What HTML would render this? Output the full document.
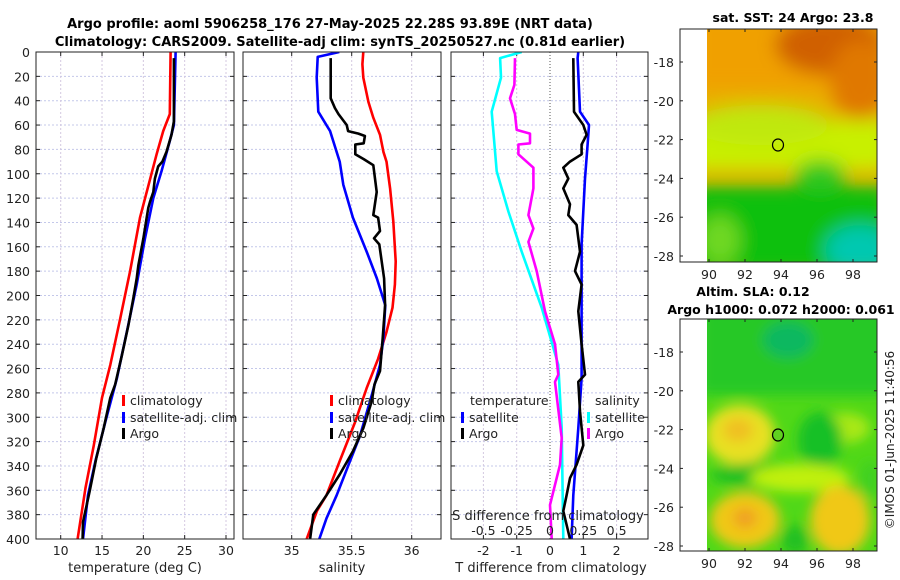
<!DOCTYPE html>
<html><head><meta charset="utf-8"><style>
html,body{margin:0;padding:0;background:#fff;}
svg{display:block;font-family:"DejaVu Sans","Liberation Sans",sans-serif;}
</style></head><body>
<svg id="fig" width="900" height="580" viewBox="0 0 900 580">
<defs>
<filter id="b1" x="-50%" y="-50%" width="200%" height="200%"><feGaussianBlur stdDeviation="9"/></filter>
<filter id="b2" x="-50%" y="-50%" width="200%" height="200%"><feGaussianBlur stdDeviation="6"/></filter>
<clipPath id="c1"><rect x="707" y="29" width="170" height="233"/></clipPath>
<clipPath id="c2"><rect x="707" y="319" width="170" height="232"/></clipPath>
<clipPath id="cp1"><rect x="36" y="52" width="198" height="487"/></clipPath>
<clipPath id="cp2"><rect x="243" y="52" width="198" height="487"/></clipPath>
<clipPath id="cp3"><rect x="451" y="52" width="197" height="487"/></clipPath>
</defs>
<text x="330" y="28" text-anchor="middle" font-size="13" font-weight="bold">Argo profile: aoml 5906258_176 27-May-2025 22.28S 93.89E (NRT data)</text>
<text x="340" y="46" text-anchor="middle" font-size="13" font-weight="bold">Climatology: CARS2009. Satellite-adj clim: synTS_20250527.nc (0.81d earlier)</text>

<g id="maps">
<g>
<rect x="680" y="29" width="197" height="233" fill="#fff"/>
<g clip-path="url(#c1)">
<rect x="707" y="29" width="170" height="233" fill="#e8b000"/>
<g filter="url(#b1)">
<rect x="690" y="10" width="200" height="80" fill="#f0a000"/>
<ellipse cx="830" cy="45" rx="55" ry="30" fill="#d06000"/>
<ellipse cx="860" cy="80" rx="30" ry="40" fill="#e07800"/>
<rect x="690" y="120" width="200" height="50" fill="#c8f000"/>
<ellipse cx="760" cy="125" rx="70" ry="20" fill="#c0e810"/>
<rect x="690" y="185" width="200" height="90" fill="#10c010"/>
<ellipse cx="820" cy="175" rx="25" ry="15" fill="#30c820"/>
<ellipse cx="860" cy="250" rx="35" ry="25" fill="#00c8b0"/>
<ellipse cx="720" cy="240" rx="20" ry="25" fill="#70d820"/>
</g>
</g>
<rect x="680" y="29" width="197" height="233" fill="none" stroke="#222" stroke-width="1"/>
<ellipse cx="778" cy="145" rx="5.5" ry="6" fill="none" stroke="#000" stroke-width="1.2"/>
<text x="793" y="22" text-anchor="middle" font-size="12.5" font-weight="bold">sat. SST: 24 Argo: 23.8</text>
</g>
<g>
<rect x="680" y="319" width="197" height="232" fill="#fff"/>
<g clip-path="url(#c2)">
<rect x="707" y="319" width="170" height="232" fill="#50d818"/>
<g filter="url(#b2)">
<rect x="700" y="300" width="190" height="95" fill="#28c828"/>
<ellipse cx="788" cy="340" rx="25" ry="18" fill="#10b860"/>
<ellipse cx="740" cy="435" rx="35" ry="30" fill="#e8e020"/>
<ellipse cx="738" cy="430" rx="15" ry="12" fill="#f0c020"/>
<ellipse cx="845" cy="428" rx="25" ry="15" fill="#a8e818"/>
<ellipse cx="820" cy="440" rx="22" ry="28" fill="#18c028"/>
<ellipse cx="760" cy="475" rx="50" ry="12" fill="#20c020"/>
<ellipse cx="800" cy="478" rx="50" ry="14" fill="#c0f010"/>
<ellipse cx="745" cy="520" rx="35" ry="28" fill="#f0c818"/>
<ellipse cx="745" cy="518" rx="12" ry="10" fill="#f0a020"/>
<ellipse cx="840" cy="520" rx="30" ry="35" fill="#f0c818"/>
<ellipse cx="795" cy="540" rx="14" ry="15" fill="#20c020"/>
<ellipse cx="870" cy="480" rx="10" ry="20" fill="#40d020"/>
</g>
</g>
<rect x="680" y="319" width="197" height="232" fill="none" stroke="#222" stroke-width="1"/>
<ellipse cx="778" cy="435" rx="5.5" ry="6" fill="#60d020" stroke="#000" stroke-width="1.2"/>
<text x="753" y="296" text-anchor="middle" font-size="12.5" font-weight="bold">Altim. SLA: 0.12</text>
<text x="781" y="314" text-anchor="middle" font-size="12.5" font-weight="bold">Argo h1000: 0.072 h2000: 0.061</text>
</g>
<text transform="translate(894,440) rotate(-90)" text-anchor="middle" font-size="12" fill="#222">©IMOS 01-Jun-2025 11:40:56</text>
</g>
<g id="plots"></g>
</svg>
<script>
// depths and values
const tClimD = [0,51,65,84,136,180,219,257,284,323,358,400];
const tClimV = [23.3,23.2,22.4,21.6,19.6,18.4,17.2,16.0,15.0,14.0,13.0,12.05];
const tSatD = [0,60,73,98,120,153,191,230,268,304,336,364,400];
const tSatV = [23.9,23.7,23.2,22.2,21.2,20.2,19.2,18.0,16.8,15.4,14.2,13.3,12.7];
const tArgoD = [5,57,68,82,90,94,104,115,123,128,136,153,175,186,202,224,249,273,284,309,334,361,386,400];
const tArgoV = [23.7,23.7,23.4,22.8,22.3,21.8,21.4,21.2,20.8,20.6,20.4,20.0,19.4,19.2,18.8,18.2,17.4,16.6,16.0,15.2,14.3,13.5,12.7,12.65];

const sClimD = [0,10,21,41,54,68,82,90,112,139,172,191,210,230,252,276,304,336,364,377,400];
const sClimV = [35.597,35.589,35.597,35.639,35.68,35.736,35.764,35.79,35.82,35.847,35.867,35.86,35.84,35.79,35.72,35.625,35.528,35.40,35.29,35.21,35.125];
const sSatD = [0,4,21,49,65,90,109,136,164,186,208,235,257,282,315,336,364,383,400];
const sSatV = [35.397,35.217,35.208,35.222,35.32,35.40,35.43,35.51,35.625,35.71,35.78,35.764,35.736,35.667,35.57,35.486,35.375,35.29,35.23];
const sArgoD = [5,38,46,51,60,65,67,69,75,76,84,88,93,104,115,134,136,147,153,158,172,186,208,235,262,273,287,309,328,347,364,380,400];
const sArgoV = [35.325,35.325,35.36,35.39,35.458,35.47,35.556,35.61,35.6,35.53,35.53,35.6,35.68,35.694,35.708,35.68,35.72,35.736,35.686,35.73,35.75,35.77,35.778,35.758,35.736,35.69,35.667,35.597,35.51,35.40,35.29,35.18,35.153];

const dtSatD = [0,5,49,60,76,104,158,268,309,364,400];
const dtSatV = [0.85,0.83,0.90,1.17,1.13,1.05,0.95,0.95,0.85,0.70,0.65];
const dtArgoD = [5,49,60,68,76,84,90,95,104,112,125,134,142,153,164,180,191,213,240,265,271,295,323,339,350,364,377,400];
const dtArgoV = [0.70,0.72,1.0,1.10,0.95,0.95,0.60,0.40,0.55,0.40,0.60,0.55,0.80,0.85,0.90,0.75,0.95,0.85,0.95,1.05,0.85,0.90,1.0,0.80,0.60,0.50,0.40,0.60];
const dsSatD = [0,5,21,49,98,131,164,210,257,309,400];
const dsSatV = [-0.2125,-0.375,-0.3675,-0.4375,-0.40,-0.3125,-0.2125,-0.0625,0.0625,0.0875,0.10];
const dsArgoD = [5,27,38,51,64,67,75,76,84,95,112,134,145,156,180,213,240,265,271,317,339,372,400];
const dsArgoV = [-0.2625,-0.2675,-0.30,-0.2625,-0.25,-0.15,-0.15,-0.2375,-0.2375,-0.125,-0.125,-0.1625,-0.125,-0.1625,-0.10,-0.0375,0.0375,0.0625,0.0375,0.0875,0.075,0.0,0.0125];

const depthTicks = [0,20,40,60,80,100,120,140,160,180,200,220,240,260,280,300,320,340,360,380,400];
const tTicks = [10,15,20,25,30];
const sTicks = [35,35.5,36];
const sTickLabels = ["35","35.5","36"];
const dTicks = [-2,-1,0,1,2];
const dsTicks = [-0.5,-0.25,0,0.25,0.5];
const dsTickLabels = ["-0.5","-0.25","0","0.25","0.5"];

const NS = "http://www.w3.org/2000/svg";
const root = document.getElementById("plots");
const Y0 = 52, Y1 = 539;
const yScale = d => Y0 + d * (Y1 - Y0) / 400;
function lin(d0, d1, r0, r1) { return v => r0 + (v - d0) * (r1 - r0) / (d1 - d0); }
const xT = lin(10, 30, 60.7, 226);
const xS = lin(35, 36, 291.7, 411.7);
const xD = lin(0, 1, 550, 583.3);
const xDS = v => xD(v * 4);

function el(tag, attrs, parent) {
  const e = document.createElementNS(NS, tag);
  for (const k in attrs) e.setAttribute(k, attrs[k]);
  (parent || root).appendChild(e);
  return e;
}
function txt(x, y, s, size, anchor, parent) {
  const t = el("text", {x: x, y: y, "font-size": size, "text-anchor": anchor || "middle", fill: "#222"}, parent);
  t.textContent = s;
  return t;
}

function panel(name, x0, x1, xTicksArr, xf, labels, clip) {
  const g = el("g", {});
  
  
  // grid
  depthTicks.forEach(d => {
    const l = el("line", {x1: x0, x2: x1, y1: yScale(d), y2: yScale(d), stroke: "#c4c8ea", "stroke-width": 1, "stroke-dasharray": "2,2"}, g);
    
    
  });
  xTicksArr.forEach(v => {
    const l = el("line", {x1: xf(v), x2: xf(v), y1: Y0, y2: Y1, stroke: "#d4c8e0", "stroke-width": 1, "stroke-dasharray": "2,2"}, g);
    
    
  });
  // ticks
  depthTicks.forEach(d => {
    el("line", {x1: x0, x2: x0 + 4, y1: yScale(d), y2: yScale(d), stroke: "#222"}, g);
    el("line", {x1: x1 - 4, x2: x1, y1: yScale(d), y2: yScale(d), stroke: "#222"}, g);
  });
  xTicksArr.forEach((v, i) => {
    el("line", {x1: xf(v), x2: xf(v), y1: Y1, y2: Y1 - 4, stroke: "#222"}, g);
    el("line", {x1: xf(v), x2: xf(v), y1: Y0, y2: Y0 + 4, stroke: "#222"}, g);
    if (labels) {
      const t = txt(xf(v), 555, labels[i], 12.5, "middle", g);
      
      
    }
  });
  return g;
}
function series(g, D, V, xf, color, name, clip) {
  const pts = D.map((d, i) => xf(V[i]).toFixed(1) + "," + yScale(d).toFixed(1)).join(" ");
  const p = el("polyline", {points: pts, fill: "none", stroke: color, "stroke-width": 2.6, "stroke-linejoin": "round", "clip-path": clip}, g);
  
  
}
function frame(g, x0, x1) {
  const r = el("rect", {x: x0, y: Y0, width: x1 - x0, height: Y1 - Y0, fill: "none", stroke: "#222", "stroke-width": 1}, g);
  
  
}
function legendItem(g, x, y, color, label) {
  el("rect", {x: x, y: y - 6, width: 3, height: 11, fill: color}, g);
  const t = txt(x + 8, y + 4, label, 12.5, "start", g);
  
  
}

// Panel 1
const g1 = panel("temperature-panel", 36, 234, tTicks, xT, tTicks.map(String));
series(g1, tClimD, tClimV, xT, "#ff0000", "temperature-climatology-line", "url(#cp1)");
series(g1, tSatD, tSatV, xT, "#0000ff", "temperature-satellite-line", "url(#cp1)");
series(g1, tArgoD, tArgoV, xT, "#000000", "temperature-argo-line", "url(#cp1)");
frame(g1, 36, 234);
depthTicks.forEach(d => {
  const t = txt(30, yScale(d) + 5, String(d), 12.5, "end", g1);
  
  
});
const xl1 = txt(135, 572, "temperature (deg C)", 13, "middle", g1);


legendItem(g1, 122, 401, "#ff0000", "climatology");
legendItem(g1, 122, 418, "#0000ff", "satellite-adj. clim");
legendItem(g1, 122, 434, "#000000", "Argo");

// Panel 2
const g2 = panel("salinity-panel", 243, 441, sTicks, xS, sTickLabels);
series(g2, sClimD, sClimV, xS, "#ff0000", "salinity-climatology-line", "url(#cp2)");
series(g2, sSatD, sSatV, xS, "#0000ff", "salinity-satellite-line", "url(#cp2)");
series(g2, sArgoD, sArgoV, xS, "#000000", "salinity-argo-line", "url(#cp2)");
frame(g2, 243, 441);
const xl2 = txt(342, 572, "salinity", 13, "middle", g2);


legendItem(g2, 330, 401, "#ff0000", "climatology");
legendItem(g2, 330, 418, "#0000ff", "satellite-adj. clim");
legendItem(g2, 330, 434, "#000000", "Argo");

// Panel 3
const g3 = panel("difference-panel", 451, 648, dTicks.filter(v => v !== 0), xD, dTicks.filter(v => v !== 0).map(String));
const z = txt(xD(0), 555, "0", 12.5, "middle", g3);


const zl = el("line", {x1: xD(0), x2: xD(0), y1: Y0, y2: Y1, stroke: "#555", "stroke-width": 1, "stroke-dasharray": "1,2"}, g3);


series(g3, dsSatD, dsSatV, xDS, "#00ffff", "salinity-diff-satellite-line", "url(#cp3)");
series(g3, dsArgoD, dsArgoV, xDS, "#ff00ff", "salinity-diff-argo-line", "url(#cp3)");
series(g3, dtSatD, dtSatV, xD, "#0000ff", "temperature-diff-satellite-line", "url(#cp3)");
series(g3, dtArgoD, dtArgoV, xD, "#000000", "temperature-diff-argo-line", "url(#cp3)");
frame(g3, 451, 648);
const xl3 = txt(551, 572, "T difference from climatology", 13, "middle", g3);


const sl = txt(548, 520, "S difference from climatology", 13, "middle", g3);


dsTicks.forEach((v, i) => {
  const t = txt(xDS(v), 535, dsTickLabels[i], 12.5, "middle", g3);
  
  
});
const lt = txt(470, 405, "temperature", 12.5, "start", g3);


const ls = txt(595, 405, "salinity", 12.5, "start", g3);


legendItem(g3, 461, 418, "#0000ff", "satellite");
legendItem(g3, 461, 434, "#000000", "Argo");
legendItem(g3, 587, 418, "#00ffff", "satellite");
legendItem(g3, 587, 434, "#ff00ff", "Argo");

// map axes
function mapAxes(top, bottom, ylabs) {
  const g = el("g", {});
  
  
  const lon = [90,92,94,96,98];
  const xm = lin(90, 98, 709, 853);
  lon.forEach(v => {
    el("line", {x1: xm(v), x2: xm(v), y1: bottom, y2: bottom - 3, stroke: "#222"}, g);
    el("line", {x1: xm(v), x2: xm(v), y1: top, y2: top + 3, stroke: "#222"}, g);
    const t = txt(xm(v), bottom + 17, String(v), 12.5, "middle", g);
    
    
  });
  const lat = [-18,-20,-22,-24,-26,-28];
  const ym = lin(-18, -28, ylabs[0], ylabs[1]);
  lat.forEach(v => {
    el("line", {x1: 680, x2: 683, y1: ym(v), y2: ym(v), stroke: "#222"}, g);
    el("line", {x1: 874, x2: 877, y1: ym(v), y2: ym(v), stroke: "#222"}, g);
    const t = txt(674, ym(v) + 5, String(v), 12.5, "end", g);
    
    
  });
}
mapAxes(29, 262, [62, 256]);
mapAxes(319, 551, [352, 546]);
</script>
</body></html>
